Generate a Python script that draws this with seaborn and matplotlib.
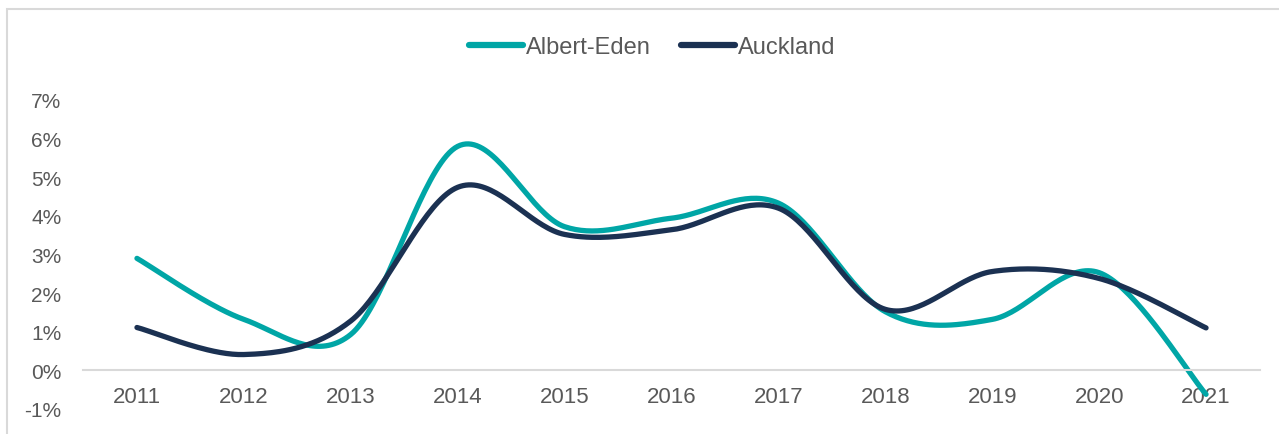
import numpy as np
import pandas as pd
import seaborn as sns
import matplotlib.pyplot as plt
from matplotlib.patches import Rectangle

years = ['2011', '2012', '2013', '2014', '2015', '2016', '2017', '2018', '2019', '2020', '2021']
albert_eden = [2.9, 1.32, 0.93, 5.8, 3.72, 3.94, 4.33, 1.52, 1.32, 2.53, -0.62]
auckland = [1.11, 0.41, 1.28, 4.74, 3.52, 3.64, 4.2, 1.58, 2.56, 2.38, 1.1]
series_names = ['Albert-Eden', 'Auckland']
colors = ['#00A6A6', '#1B3152']


def smooth(y, n=40):
    # Excel-style smoothed line: Catmull-Rom segments drawn as cubic Bezier curves
    x = np.arange(len(y), dtype=float)
    y = np.asarray(y, dtype=float)
    px = np.concatenate([[x[0]], x, [x[-1]]])
    py = np.concatenate([[y[0]], y, [y[-1]]])
    xs, ys = [], []
    t = np.linspace(0, 1, n)
    for i in range(1, len(px) - 2):
        p0 = np.array([px[i], py[i]])
        p3 = np.array([px[i + 1], py[i + 1]])
        c1 = p0 + (p3 - np.array([px[i - 1], py[i - 1]])) / 6
        c2 = p3 - (np.array([px[i + 2], py[i + 2]]) - p0) / 6
        pts = ((1 - t) ** 3)[:, None] * p0 + (3 * (1 - t) ** 2 * t)[:, None] * c1 \
            + (3 * (1 - t) * t ** 2)[:, None] * c2 + (t ** 3)[:, None] * p3
        xs.extend(pts[:, 0])
        ys.extend(pts[:, 1])
    return xs, ys


frames = []
for name, vals in zip(series_names, [albert_eden, auckland]):
    sx, sy = smooth(vals)
    frames.append(pd.DataFrame({'x': sx, 'y': sy, 'series': name}))
df = pd.concat(frames, ignore_index=True)

sns.set_style('white')
plt.rcParams['font.family'] = ['Liberation Sans', 'DejaVu Sans']

fig = plt.figure(figsize=(12.79, 4.35), dpi=100)
ax = fig.add_axes([83.5 / 1279, 1 - 410 / 435, 1176 / 1279, 309 / 435])

sns.lineplot(data=df, x='x', y='y', hue='series', palette=colors, sort=False,
             estimator=None, linewidth=3.8, ax=ax, solid_capstyle='round')

text_color = '#595959'
for s in ['top', 'right', 'left']:
    ax.spines[s].set_visible(False)
ax.spines['bottom'].set_position(('data', 0))
ax.spines['bottom'].set_color('#D9D9D9')
ax.spines['bottom'].set_linewidth(1.5)

ax.set_xlim(-0.5, len(years) - 0.5)
ax.set_ylim(-1, 7)
ax.set_yticks(range(-1, 8))
ax.set_yticklabels([f'{v}%' for v in range(-1, 8)], color=text_color, fontsize=15)
ax.set_xticks(range(len(years)))
ax.set_xticklabels(years, color=text_color, fontsize=16)
ax.tick_params(axis='x', length=0, pad=11)
ax.tick_params(axis='y', length=0, pad=16)
ax.set_xlabel('')
ax.set_ylabel('')

leg = ax.legend(loc='center', bbox_to_anchor=(652 / 1279, (1 - 48 / 435)), bbox_transform=fig.transFigure,
                ncol=2, frameon=False, fontsize=17, handlelength=2.3, handletextpad=0.1,
                columnspacing=1.3, labelcolor=text_color)
for line in leg.get_lines():
    line.set_linewidth(4.5)
    line.set_solid_capstyle('round')

fig.patches.append(Rectangle((6.5 / 1279, -0.1), 1.2, 1 - 9.5 / 435 + 0.1, transform=fig.transFigure,
                             fill=False, edgecolor='#D9D9D9', linewidth=1.5))

fig.savefig('out.png', dpi=100)
